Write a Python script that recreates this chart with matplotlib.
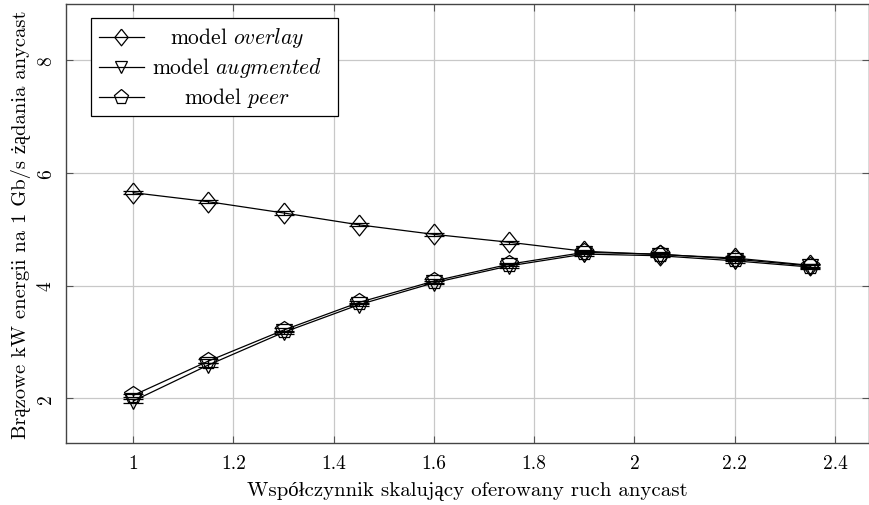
import numpy as np
import matplotlib
matplotlib.use("Agg")
import matplotlib.pyplot as plt
from matplotlib.patches import Rectangle

plt.rcParams['font.family'] = ['cmr10', 'Liberation Serif']
plt.rcParams['mathtext.fontset'] = 'cm'
plt.rcParams['axes.formatter.use_mathtext'] = True
plt.rcParams['axes.unicode_minus'] = False

# data
scale = [1.0, 1.15, 1.3, 1.45, 1.6, 1.75, 1.9, 2.05, 2.2, 2.35]
overlay = [5.65, 5.49, 5.29, 5.08, 4.91, 4.77, 4.61, 4.55, 4.49, 4.36]
augmented = [1.95, 2.59, 3.17, 3.66, 4.05, 4.35, 4.56, 4.53, 4.44, 4.33]
peer = [2.05, 2.66, 3.21, 3.70, 4.08, 4.38, 4.59, 4.56, 4.47, 4.35]
err = 0.03

xticks = [1, 1.2, 1.4, 1.6, 1.8, 2, 2.2, 2.4]
yticks = [2, 4, 6, 8]

diamond = [(0, 1), (0.8, 0), (0, -1), (-0.8, 0), (0, 1)]

fig = plt.figure(figsize=(8.7, 5.06), dpi=100)
ax = fig.add_axes([0.0759, 0.122, 0.923, 0.868])

series = [
    (overlay, diamond, 15, 12, r'model $\mathit{overlay}$'),
    (augmented, 'v', 11, 9, r'model $\mathit{augmented}$'),
    (peer, 'p', 13, 11, r'model $\mathit{peer}$'),
]

for vals, mk, ms, lms, lab in series:
    ax.errorbar(scale, vals, yerr=err, color='black', lw=0.9, elinewidth=0.9,
                capsize=7, capthick=0.9, marker=mk, ms=ms, mfc='none',
                mec='black', mew=0.9, zorder=3)

ax.set_xlim(0.866, 2.468)
ax.set_ylim(1.2, 9.0)
ax.set_xticks(xticks)
ax.set_xticklabels([f'{t:g}' for t in xticks])
ax.set_yticks(yticks)
ax.set_yticklabels([str(t) for t in yticks], rotation=90, va='center')
ax.grid(True, color='#c8c8c8', lw=0.9)
ax.set_axisbelow(True)
ax.tick_params(direction='in', length=5, color='#555555', labelsize=14,
               top=True, right=True, pad=8)
for s in ax.spines.values():
    s.set_color('#444444')
    s.set_linewidth(1.0)

ax.set_xlabel('Współczynnik skalujący oferowany ruch anycast', fontsize=15, labelpad=6)
ax.set_ylabel('Brązowe kW energii na 1 Gb/s żądania anycast', fontsize=14.8, labelpad=4)

# legend drawn by hand so the labels can be centred like pgfplots does
box = Rectangle((0.031, 0.745), 0.3077, 0.223, transform=ax.transAxes,
                facecolor='white', edgecolor='black', lw=0.9, zorder=5)
ax.add_patch(box)
rows = [0.924, 0.857, 0.789]
for (vals, mk, ms, lms, lab), ry in zip(series, rows):
    ax.plot([0.041, 0.097], [ry, ry], color='black', lw=0.9,
            transform=ax.transAxes, zorder=6)
    ax.plot([0.069], [ry], marker=mk, ms=lms, mfc='none', mec='black', mew=0.9,
            transform=ax.transAxes, zorder=6)
    ax.text(0.213, ry, lab, fontsize=15.5, ha='center', va='center',
            transform=ax.transAxes, zorder=6)

fig.savefig('out.png', dpi=100)
